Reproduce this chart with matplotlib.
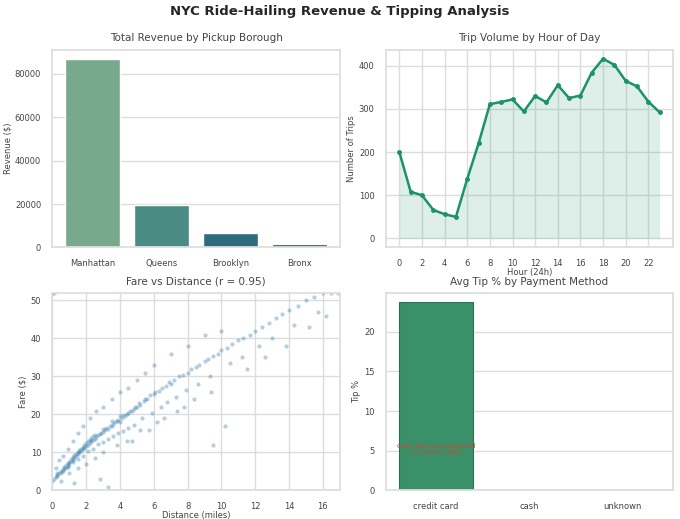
import matplotlib
matplotlib.use("Agg")
import matplotlib.pyplot as plt
import seaborn as sns

boroughs = ["Manhattan", "Queens", "Brooklyn", "Bronx"]
revenue = [86800, 19500, 6800, 1800]
bar_colors = ["#78a98c", "#4a8c84", "#2e6c7c", "#1e4d6c"]

hours = list(range(24))
trips = [200, 108, 100, 66, 56, 50, 138, 220, 311, 316, 322, 294, 330, 315, 355, 325, 331, 384, 416, 402, 365, 352, 317, 292]

payments = ["credit card", "cash", "unknown"]
tips = [23.7, 0, 0]

dist = [0.1,0.2,0.3,0.3,0.4,0.5,0.5,0.6,0.7,0.7,0.8,0.8,0.9,0.9,1.0,1.0,1.1,1.1,1.2,1.2,1.3,1.3,1.4,1.4,1.5,1.5,1.6,1.6,1.7,1.7,
        1.8,1.8,1.9,1.9,2.0,2.0,2.1,2.1,2.2,2.2,2.3,2.3,2.4,2.4,2.5,2.5,2.6,2.7,2.8,2.9,3.0,3.0,3.1,3.2,3.3,3.4,3.5,3.5,3.6,3.7,
        3.8,3.9,4.0,4.0,4.1,4.2,4.3,4.4,4.5,4.6,4.7,4.8,4.9,5.0,5.1,5.2,5.4,5.5,5.6,5.8,6.0,6.1,6.3,6.5,6.7,6.9,7.0,7.2,7.5,7.7,
        8.0,8.2,8.5,8.7,9.0,9.2,9.5,9.8,10.0,10.3,10.6,11.0,11.3,11.7,12.0,12.4,12.8,13.2,13.6,14.0,14.5,15.0,15.5,16.0,16.5,16.9,
        0.2,0.4,0.6,0.9,1.2,1.5,1.8,2.2,2.6,3.0,3.5,4.0,4.5,5.0,5.5,6.0,7.0,8.0,9.0,10.0,9.5,10.2,0.5,1.0,1.5,2.0,2.5,3.0,3.8,4.4,
        5.2,6.2,7.4,8.4,9.4,11.5,12.6,13.8,15.2,16.2,0.0,0.0,0.1,1.3,2.8,3.3,4.7,5.7,6.6,7.8,
        0.3,0.6,0.9,1.2,1.5,1.8,2.1,2.4,2.7,3.0,3.3,3.6,3.9,4.2,4.5,4.8,5.3,5.9,6.4,6.8,7.3,7.9,8.6,9.3,10.5,11.2,12.2,13.0,14.3,15.7]
fare = [3.0,3.5,4.0,3.8,4.5,5.0,4.6,5.5,5.8,6.2,6.0,6.8,6.5,7.2,7.0,7.5,7.8,8.2,8.0,8.8,8.5,9.2,9.0,9.6,9.5,10.2,10.0,10.6,10.4,11.0,
        10.8,11.5,11.2,12.0,11.8,12.5,12.0,13.0,12.5,13.4,13.0,13.8,13.2,14.2,13.6,14.6,14.0,14.5,14.8,15.2,15.5,16.2,15.8,16.5,16.2,17.0,17.0,18.2,17.5,18.0,
        18.2,18.5,18.0,19.5,19.0,19.8,19.5,20.2,20.5,21.0,20.8,21.5,22.0,22.0,23.0,22.5,23.5,24.0,24.0,25.0,25.5,26.0,26.2,27.0,27.5,28.5,28.0,29.0,30.0,30.5,
        31.0,32.0,32.5,33.0,34.0,34.5,35.5,36.0,37.0,37.5,38.5,39.5,40.0,41.0,42.0,43.0,44.0,45.5,46.5,47.5,48.5,50.0,51.0,52.0,52.0,52.0,
        6.0,8.0,9.0,11.0,13.0,15.0,17.0,19.0,21.0,22.0,24.0,26.0,27.0,29.0,31.0,33.0,36.0,38.0,41.0,42.0,12.0,17.0,2.5,4.5,6.0,7.0,8.5,10.0,12.0,13.0,
        16.0,18.0,21.0,24.0,26.0,32.0,35.0,38.0,43.0,46.0,2.5,52.0,52.0,2.0,3.0,1.0,13.0,16.0,19.0,22.0,
        4.5,5.2,6.3,7.6,8.4,9.0,10.4,11.0,12.2,12.8,13.5,14.4,15.0,15.6,16.4,17.2,19.0,20.5,22.0,23.2,24.5,26.5,28.0,30.0,33.5,35.0,38.0,40.0,43.5,47.0]

sns.set_theme(style="whitegrid", rc={"grid.color": "#dddddd", "axes.edgecolor": "#dddddd"})
plt.rcParams['font.family'] = ['DejaVu Sans']
fig, axes = plt.subplots(2, 2, figsize=(6.8, 5.19), dpi=100)
fig.suptitle("NYC Ride-Hailing Revenue & Tipping Analysis", fontsize=9.5, fontweight="bold", y=0.99)
tk = dict(labelsize=6, colors="#444444", pad=2)
tsz = 7.5
lab = dict(fontsize=6, color="#444444", labelpad=2)

ax = axes[0, 0]
ax.bar(boroughs, revenue, color=bar_colors, width=0.8)
ax.set_title("Total Revenue by Pickup Borough", fontsize=tsz, color="#444444")
ax.set_ylabel("Revenue ($)", **lab)
ax.tick_params(**tk)
ax.grid(axis="x", visible=False)

ax = axes[0, 1]
ax.fill_between(hours, trips, color="#1a9466", alpha=0.14, linewidth=0)
ax.plot(hours, trips, color="#1a9466", marker="o", markersize=2.5, linewidth=1.8)
ax.set_title("Trip Volume by Hour of Day", fontsize=tsz, color="#444444")
ax.set_xlabel("Hour (24h)", fontsize=6, color="#444444", labelpad=0)
ax.set_ylabel("Number of Trips", **lab)
ax.set_xticks(range(0, 24, 2))
ax.set_xlim(-1.2, 24.2)
ax.tick_params(**tk)

ax = axes[1, 0]
ax.scatter(dist, fare, s=9, color="#2f78a8", alpha=0.35, linewidths=0)
ax.set_title("Fare vs Distance (r = 0.95)", fontsize=tsz, color="#444444")
ax.set_xlabel("Distance (miles)", fontsize=6, color="#444444", labelpad=0)
ax.set_ylabel("Fare ($)", **lab)
ax.set_xlim(0, 17)
ax.set_ylim(0, 52)
ax.tick_params(**tk)

ax = axes[1, 1]
ax.bar(payments, tips, color="#3a9068", edgecolor="#2a7050", linewidth=0.8, width=0.8)
ax.set_title("Avg Tip % by Payment Method", fontsize=tsz, color="#444444")
ax.set_ylabel("Tip %", **lab)
ax.text(0, 5.2, "cash tips not captured\nin source data", ha="center", va="center",
        fontsize=5, color="#c0503a", linespacing=1.1)
ax.tick_params(**tk)
ax.grid(axis="x", visible=False)

fig.subplots_adjust(left=0.077, right=0.99, top=0.904, bottom=0.055, hspace=0.23, wspace=0.16)
fig.savefig("out.png", dpi=100)
